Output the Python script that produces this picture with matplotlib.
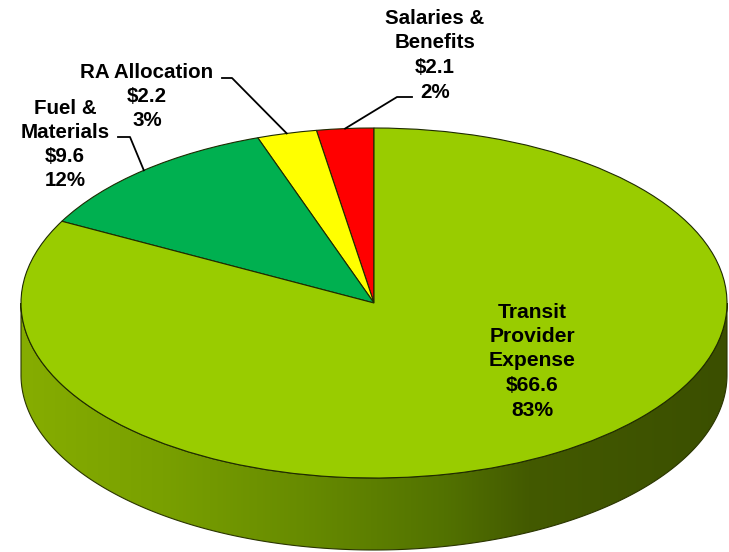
import numpy as np
import matplotlib
matplotlib.use("Agg")
from matplotlib import pyplot as plt
from matplotlib.colors import LinearSegmentedColormap
from matplotlib.patches import Polygon

# data (order: counter-clockwise from 12 o'clock)
categories = ["Salaries &\nBenefits", "RA Allocation", "Fuel &\nMaterials", "Transit\nProvider\nExpense"]
amounts = [2.1, 2.2, 9.6, 66.6]
amount_labels = ["$2.1", "$2.2", "$9.6", "$66.6"]
pct_labels = ["2%", "3%", "12%", "83%"]
colors = ["#ff0000", "#ffff00", "#00b050", "#99cc00"]

W, H = 729, 552
CX, CY, A, B, DEPTH = 374, 303, 353, 175, 72   # ellipse geometry in pixels


def px(x, y):
    # image pixel -> data coords (unit circle squashed by axes scaling)
    return (x - CX) / A, (CY - y) / B


fig = plt.figure(figsize=(W / 100, H / 100), dpi=100)
ax = fig.add_axes([0, 0, 1, 1])

# top face
wedges, _ = ax.pie(amounts, colors=colors, startangle=90, counterclock=True,
                   radius=1.0, wedgeprops=dict(edgecolor="#1e2a00", linewidth=0.8))
for w in wedges:
    w.set_zorder(3)

ax.set_aspect("auto")
x0, y1 = px(0, 0)
x1, y0 = px(W, H)
ax.set_xlim(x0, x1)
ax.set_ylim(y0, y1)
ax.axis("off")

# side wall with horizontal gradient
d = DEPTH / B
t = np.linspace(np.pi, 2 * np.pi, 300)
top = np.column_stack([np.cos(t), np.sin(t)])
bot = np.column_stack([np.cos(t[::-1]), np.sin(t[::-1]) - d])
side = Polygon(np.vstack([top, bot]), closed=True, facecolor="none",
               edgecolor="#2a3500", linewidth=0.8, zorder=2)
ax.add_patch(side)
cmap = LinearSegmentedColormap.from_list(
    "side", [(0.0, "#86ad00"), (0.2, "#79a000"), (0.4, "#678b00"),
             (0.6, "#527200"), (0.72, "#435a00"), (1.0, "#3b4f00")])
grad = np.linspace(0, 1, 256).reshape(1, -1)
im = ax.imshow(grad, cmap=cmap, extent=(-1, 1, -1 - d, 0.05), aspect="auto",
               zorder=1, interpolation="bilinear")
im.set_clip_path(side)

# labels, one text per line (x centre, first line y, line step)
label_pos = [(435, 18, 24.7), (147, 72, 24.5), (65, 108, 24.3), (532, 312, 24.5)]
label_size = [14.8, 14.8, 14.8, 15.2]
for cat, amt, pct, (lx, ly, step), fs in zip(categories, amount_labels, pct_labels,
                                             label_pos, label_size):
    lines = cat.split("\n") + [amt, pct]
    for k, line in enumerate(lines):
        ax.text(*px(lx, ly + k * step), line, zorder=5, fontsize=fs,
                family="Liberation Sans", weight="bold", color="black",
                ha="center", va="center")

# leader lines to slice mid-angles on the rim
theta = 90 + (np.cumsum(amounts) - np.array(amounts) / 2) / sum(amounts) * 360
leader_start = [(412, 97), (222, 78), (118, 137)]
leader_elbow = [(397, 97), (232, 78), (130, 137)]
for i in range(3):
    ang = np.deg2rad(theta[i])
    sx, sy = px(*leader_start[i])
    ex, ey = px(*leader_elbow[i])
    ax.plot([sx, ex, np.cos(ang)], [sy, ey, np.sin(ang)], color="black",
            lw=1.3, zorder=6)

fig.savefig("out.png", dpi=100)
